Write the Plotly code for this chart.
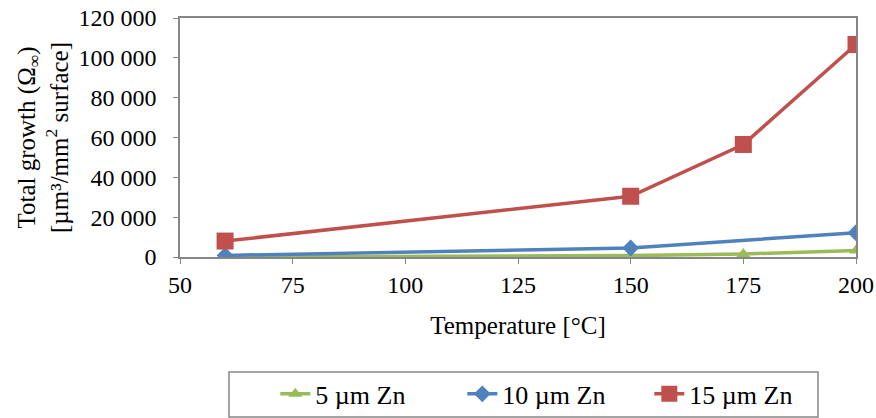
import plotly.graph_objects as go

temp_5 = [60, 150, 175, 200]
zn5 = [0, 700, 1500, 3300]
temp_10 = [60, 150, 200]
zn10 = [800, 4500, 12200]
temp_15 = [60, 150, 175, 200]
zn15 = [8000, 30500, 56500, 106700]

x_ticks = [50, 75, 100, 125, 150, 175, 200]
y_ticks = [0, 20000, 40000, 60000, 80000, 100000, 120000]
y_tick_text = ["0", "20 000", "40 000", "60 000", "80 000", "100 000", "120 000"]

FONT = "Liberation Serif, Times New Roman, serif"
FT = dict(family=FONT, size=24, color="black")   # tick labels
F = dict(family=FONT, size=25, color="black")    # titles
FL = dict(family=FONT, size=26, color="black")   # legend
fig = go.Figure()
fig.add_trace(go.Scatter(x=temp_5, y=zn5, name="5 µm Zn", mode="lines+markers",
                         line=dict(color="#9BBB59", width=3.5),
                         marker=dict(symbol="triangle-up", size=12, color="#9BBB59")))
fig.add_trace(go.Scatter(x=temp_10, y=zn10, name="10 µm Zn", mode="lines+markers",
                         line=dict(color="#4F81BD", width=3.5),
                         marker=dict(symbol="diamond", size=13, color="#4F81BD")))
fig.add_trace(go.Scatter(x=temp_15, y=zn15, name="15 µm Zn", mode="lines+markers",
                         line=dict(color="#C0504D", width=3.5),
                         marker=dict(symbol="square", size=17, color="#C0504D")))

# legend frame drawn as a shape (paper coords)
fig.add_shape(type="rect", xref="paper", yref="paper",
              x0=0.0725, x1=0.9438, y0=-0.669, y1=-0.481,
              line=dict(color="#868686", width=1.5), fillcolor="rgba(0,0,0,0)")

fig.update_layout(
    width=876, height=418,
    margin=dict(l=180, r=20, t=18, b=161, autoexpand=False),
    paper_bgcolor="white", plot_bgcolor="white",
    font=F,
    showlegend=True,
    legend=dict(orientation="h", x=0.141, xanchor="left", y=-0.573, yanchor="middle",
                borderwidth=0, bgcolor="rgba(0,0,0,0)", font=FL,
                entrywidth=142, entrywidthmode="pixels", tracegroupgap=0),
    xaxis=dict(range=[50, 200], tickvals=x_ticks, showgrid=False, zeroline=False,
               showline=True, linecolor="#868686", linewidth=1.5, mirror=True,
               ticks="outside", ticklen=5, tickcolor="#868686", tickfont=FT,
               automargin=False,
               title=dict(text="Temperature [°C]", standoff=20, font=F)),
    yaxis=dict(range=[0, 120000], tickvals=y_ticks, ticktext=y_tick_text,
               showgrid=False, zeroline=False,
               showline=True, linecolor="#868686", linewidth=1.5, mirror=True,
               ticks="outside", ticklen=5, tickcolor="#868686", tickfont=FT,
               ticklabelstandoff=12, automargin=False,
               title=dict(text="Total growth (Ω<sub>∞</sub>)<br>[µm³/mm<sup>2</sup> surface]",
                          standoff=3, font=F)),
)
fig.write_html("out.html", config={"displayModeBar": False},
               post_script="document.body.style.margin='0';document.body.style.overflow='hidden';")
